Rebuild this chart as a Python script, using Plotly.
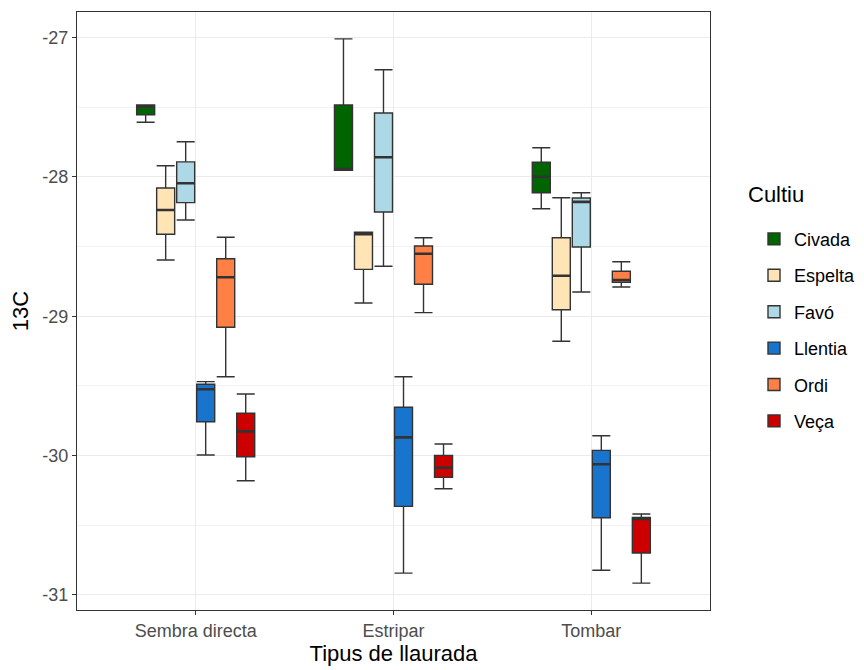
import plotly.graph_objects as go

# Tillage systems (x categories) and crops (dodged groups)
tillage = ["Sembra directa", "Estripar", "Tombar"]
crops = ["Civada", "Espelta", "Favó", "Llentia", "Ordi", "Veça"]

# Box statistics of 13C per crop, one value per tillage system
lower_fence = {
    "Civada":  [-27.607, -27.952, -28.228],
    "Espelta": [-28.596, -28.905, -29.179],
    "Favó":    [-28.309, -28.641, -28.826],
    "Llentia": [-29.996, -30.843, -30.823],
    "Ordi":    [-29.434, -28.974, -28.790],
    "Veça":    [-30.180, -30.238, -30.915],
}
q1 = {
    "Civada":  [-27.553, -27.952, -28.113],
    "Espelta": [-28.411, -28.663, -28.953],
    "Favó":    [-28.184, -28.251, -28.503],
    "Llentia": [-29.757, -30.364, -30.446],
    "Ordi":    [-29.079, -28.770, -28.756],
    "Veça":    [-30.008, -30.156, -30.699],
}
median = {
    "Civada":  [-27.495, -27.943, -27.998],
    "Espelta": [-28.237, -28.411, -28.709],
    "Favó":    [-28.045, -27.859, -28.179],
    "Llentia": [-29.524, -29.869, -30.062],
    "Ordi":    [-28.720, -28.551, -28.739],
    "Veça":    [-29.826, -30.087, -30.455],
}
q3 = {
    "Civada":  [-27.483, -27.483, -27.894],
    "Espelta": [-28.079, -28.397, -28.436],
    "Favó":    [-27.892, -27.541, -28.151],
    "Llentia": [-29.488, -29.653, -29.962],
    "Ordi":    [-28.587, -28.495, -28.677],
    "Veça":    [-29.696, -29.998, -30.443],
}
upper_fence = {
    "Civada":  [-27.483, -27.009, -27.790],
    "Espelta": [-27.919, -28.397, -28.149],
    "Favó":    [-27.747, -27.230, -28.113],
    "Llentia": [-29.469, -29.434, -29.857],
    "Ordi":    [-28.433, -28.436, -28.608],
    "Veça":    [-29.558, -29.917, -30.419],
}

fill_colors = {
    "Civada": "#006400",
    "Espelta": "#FFE4B5",
    "Favó": "#ADD8E6",
    "Llentia": "#1874CD",
    "Ordi": "#FF7F45",
    "Veça": "#CD0000",
}

y_ticks = [-31, -30, -29, -28, -27]
y_tick_labels = ["-31", "-30", "-29", "-28", "-27"]
y_minor = [-30.5, -29.5, -28.5, -27.5]

FONT = "Liberation Sans, Arial, sans-serif"
EDGE = "#333333"

fig = go.Figure()
for crop in crops:
    # the box with whiskers
    fig.add_trace(go.Box(
        x=tillage,
        lowerfence=lower_fence[crop],
        q1=q1[crop],
        median=median[crop],
        q3=q3[crop],
        upperfence=upper_fence[crop],
        name=crop,
        legendgroup=crop,
        offsetgroup=crop,
        fillcolor=fill_colors[crop],
        line=dict(color=EDGE, width=1.4),
        whiskerwidth=1,
        boxpoints=False,
        hoverinfo="skip",
    ))
    # heavier median bar drawn on top of the same slot
    fig.add_trace(go.Box(
        x=tillage,
        lowerfence=median[crop],
        q1=median[crop],
        median=median[crop],
        q3=median[crop],
        upperfence=median[crop],
        name=crop,
        legendgroup=crop,
        offsetgroup=crop,
        showlegend=False,
        fillcolor=EDGE,
        line=dict(color=EDGE, width=2.6),
        whiskerwidth=0,
        boxpoints=False,
        hoverinfo="skip",
    ))

axis_common = dict(showline=True, mirror=True, linecolor=EDGE, linewidth=1.1,
                   ticks="outside", ticklen=4, tickcolor=EDGE, tickwidth=1,
                   gridcolor="#EBEBEB", gridwidth=1, zeroline=False, automargin=False,
                   tickfont=dict(family=FONT, size=18, color="#4D4D4D"))

fig.update_layout(
    width=864, height=670,
    margin=dict(l=77, r=154, t=12, b=60, autoexpand=False),
    paper_bgcolor="white", plot_bgcolor="white",
    boxmode="group", boxgap=0.393, boxgroupgap=0.1,
    font=dict(family=FONT, color="black"),
    xaxis=dict(type="category", range=[-0.6, 2.6], showgrid=True,
               title=dict(text="Tipus de llaurada", font=dict(size=22, color="black"), standoff=3),
               **axis_common),
    yaxis=dict(range=[-31.108, -26.816], tickmode="array", tickvals=y_ticks, ticktext=y_tick_labels,
               showgrid=True,
               minor=dict(tickmode="array", tickvals=y_minor, showgrid=True,
                          gridcolor="#F2F2F2", gridwidth=0.6, ticks=""),
               title=dict(text="13C", font=dict(size=22, color="black"), standoff=7),
               **axis_common),
    legend=dict(
        font=dict(family=FONT, size=18, color="black"),
        x=1.0695, xanchor="left", y=0.651, yanchor="top",
        tracegroupgap=10, bgcolor="rgba(0,0,0,0)",
    ),
    annotations=[dict(
        text="Cultiu", xref="paper", yref="paper", x=1.057, y=0.694,
        xanchor="left", yanchor="middle", showarrow=False,
        font=dict(family=FONT, size=22, color="black"),
    )],
)

fig.write_html("out.html")
